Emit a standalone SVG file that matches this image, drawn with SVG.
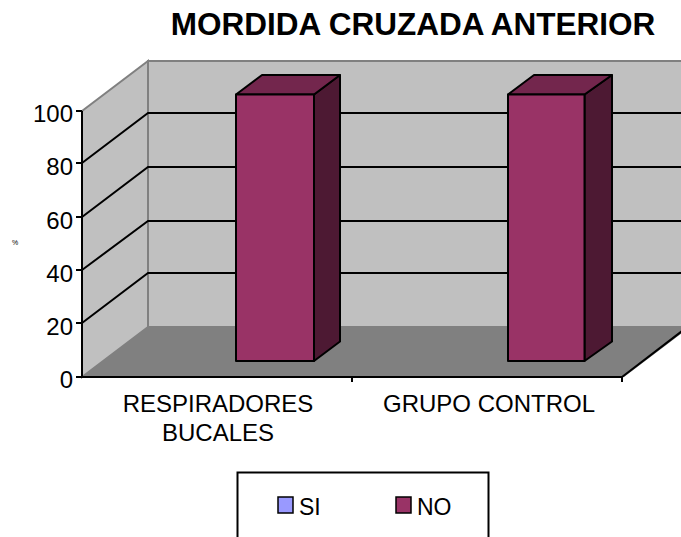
<svg xmlns="http://www.w3.org/2000/svg" width="681" height="537" viewBox="0 0 681 537">
<style>
text{font-family:"Liberation Sans",Arial,sans-serif;fill:#000}
.t{font-size:31.5px;font-weight:bold}
.ax{font-size:24px}
.lab{font-size:24px}
.grid{stroke:#000;stroke-width:2;fill:none}
.wall{fill:#C0C0C0;stroke:#808080;stroke-width:2}
.bf{fill:#993366;stroke:#000;stroke-width:2;stroke-linejoin:round}
.bt{fill:#73264D;stroke:#000;stroke-width:2;stroke-linejoin:round}
.bs{fill:#4D1933;stroke:#000;stroke-width:2;stroke-linejoin:round}
</style>
<rect width="681" height="537" fill="#fff"/>
<text class="t" x="413" y="35" text-anchor="middle">MORDIDA CRUZADA ANTERIOR</text>
<g id="plot">
<polygon class="wall" points="148,61 690,61 690,327 148,327"/>
<polygon class="wall" points="82,111 148,61 148,327 82,377"/>
<polygon points="82,377 148,327 690,327 624,377" fill="#808080"/>
<line x1="622" y1="377" x2="690" y2="325" stroke="#000" stroke-width="2"/>
</g>
<g id="gridlines" class="grid">
<path d="M82,163 L148,113 L681,113 M82,217 L148,167 L681,167 M82,270 L148,221 L681,221 M82,323 L148,273 L681,273"/>
</g>
<g id="axes" stroke="#000" stroke-width="2" fill="none">
<path d="M82,111 L82,377 L622,377"/>
<path d="M76,111 H82 M76,163 H82 M76,217 H82 M76,270 H82 M76,323 H82 M76,377 H82"/>
<path d="M352,377 V382 M622,377 V382"/>
</g>
<g id="yticks" class="ax" text-anchor="end">
<text x="73" y="122">100</text>
<text x="73" y="175">80</text>
<text x="73" y="229">60</text>
<text x="73" y="282">40</text>
<text x="73" y="335">20</text>
<text x="73" y="388">0</text>
</g>
<text x="15" y="245" font-size="7" text-anchor="middle">%</text>
<g id="bar1">
<polygon class="bs" points="314,94.5 340,75 340,341.5 314,361"/>
<polygon class="bt" points="236,94.5 314,94.5 340,75 262,75"/>
<rect class="bf" x="236" y="94.5" width="78" height="266.5"/>
</g>
<g id="bar2">
<polygon class="bs" points="584.5,94.5 612,75 612,341.5 584.5,361"/>
<polygon class="bt" points="508,94.5 584.5,94.5 612,75 534,75"/>
<rect class="bf" x="508" y="94.5" width="76.5" height="266.5"/>
</g>
<g id="xlabels" class="lab" text-anchor="middle">
<text x="218" y="412">RESPIRADORES</text>
<text x="218" y="441">BUCALES</text>
<text x="489" y="412">GRUPO CONTROL</text>
</g>
<g id="legend">
<rect x="237.5" y="472.5" width="251" height="80" fill="#fff" stroke="#000" stroke-width="2"/>
<rect x="278" y="497" width="15" height="16" fill="#9999FF" stroke="#000" stroke-width="1.5"/>
<text x="299" y="515" font-size="23">SI</text>
<rect x="396" y="497" width="15" height="16" fill="#993366" stroke="#000" stroke-width="1.5"/>
<text x="417" y="515" font-size="23">NO</text>
</g>
</svg>
